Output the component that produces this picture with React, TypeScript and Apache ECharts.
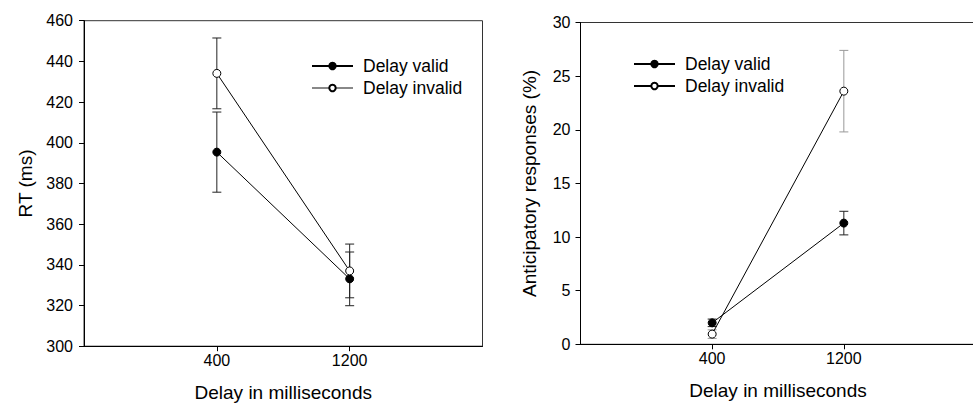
import React, { useEffect, useRef } from "react";
import * as echarts from "echarts";

const xLabels = ["400", "1200"];
const axisCats = ["", ...xLabels, ""];

const rtValid = [395.4, 333.1];
const rtValidErr = [19.7, 13.2];
const rtInvalid = [434.1, 337.0];
const rtInvalidErr = [17.4, 13.2];

const antValid = [2.0, 11.3];
const antValidErr = [0.35, 1.1];
const antInvalid = [0.95, 23.6];
const antInvalidErr = [0.4, 3.8];

const seriesNames = ["Delay valid", "Delay invalid"];

const FONT = "'Liberation Sans', Arial, sans-serif";

function errData(vals: number[], errs: number[]) {
  return vals.map((v, i) => [xLabels[i], v, errs[i]]);
}

function errSeries(idx: number, vals: number[], errs: number[], color: string) {
  return {
    type: "custom",
    name: "err" + idx + color,
    xAxisIndex: idx,
    yAxisIndex: idx,
    z: 1,
    silent: true,
    encode: { x: 0, y: 1 },
    data: errData(vals, errs),
    renderItem: (params: any, api: any) => {
      const x = api.value(0);
      const y = api.value(1);
      const e = api.value(2);
      const t = api.coord([x, y + e]);
      const b = api.coord([x, y - e]);
      const w = 4.5;
      const st = { stroke: color, lineWidth: 1 };
      return {
        type: "group",
        children: [
          { type: "line", shape: { x1: t[0], y1: t[1], x2: b[0], y2: b[1] }, style: st },
          { type: "line", shape: { x1: t[0] - w, y1: t[1], x2: t[0] + w, y2: t[1] }, style: st },
          { type: "line", shape: { x1: b[0] - w, y1: b[1], x2: b[0] + w, y2: b[1] }, style: st },
        ],
      };
    },
  };
}

function lineSeries(idx: number, name: string, vals: number[], open: boolean) {
  return {
    type: "line",
    name,
    xAxisIndex: idx,
    yAxisIndex: idx,
    z: 3,
    data: vals.map((v, i) => [xLabels[i], v]),
    symbol: "circle",
    symbolSize: 8,
    showSymbol: true,
    lineStyle: { color: "#000", width: 1 },
    itemStyle: {
      color: open ? "#fff" : "#000",
      borderColor: "#000",
      borderWidth: 1,
      opacity: 1,
    },
  };
}

const showIdx = (i: number) => i === 1 || i === 2;

function xAxis(idx: number) {
  return {
    type: "category",
    gridIndex: idx,
    data: axisCats,
    boundaryGap: false,
    name: "Delay in milliseconds",
    nameLocation: "middle",
    nameGap: 37,
    nameTextStyle: { fontSize: 19, color: "#000", fontFamily: FONT },
    axisLine: { show: true, lineStyle: { color: "#000", width: 1 } },
    axisTick: { show: true, interval: showIdx, length: 5, inside: false, lineStyle: { color: "#000" } },
    axisLabel: { interval: showIdx, fontSize: 16, color: "#000", fontFamily: FONT, margin: 6 },
    splitLine: { show: false },
  };
}

function yAxis(idx: number, name: string, min: number, max: number, interval: number, gap: number, margin: number) {
  return {
    type: "value",
    gridIndex: idx,
    min,
    max,
    interval,
    name,
    nameLocation: "middle",
    nameGap: gap,
    nameTextStyle: { fontSize: 19, color: "#000", fontFamily: FONT },
    axisLine: { show: true, lineStyle: { color: "#000", width: 1 } },
    axisTick: { show: true, length: 5, inside: false, lineStyle: { color: "#000" } },
    axisLabel: { fontSize: 16, color: "#000", fontFamily: FONT, margin },
    splitLine: { show: false },
  };
}

function legend(left: number, top: number, invalidLineColor: string) {
  return {
    orient: "vertical",
    left,
    top,
    padding: 0,
    itemWidth: 41,
    itemHeight: 8,
    itemGap: 2,
    selectedMode: false,
    textStyle: { fontSize: 17.5, lineHeight: 20, color: "#000", fontFamily: FONT, padding: [0, 0, 0, 5] },
    data: [
      { name: seriesNames[0], lineStyle: { color: "#000" } },
      { name: seriesNames[1], lineStyle: { color: invalidLineColor } },
    ],
  };
}

export default function App() {
  const ref = useRef<HTMLDivElement>(null);
  useEffect(() => {
    if (!ref.current) return;
    const chart = echarts.init(ref.current, undefined, { renderer: "svg" });
    chart.setOption({
      animation: false,
      backgroundColor: "#fff",
      textStyle: { fontFamily: FONT },
      grid: [
        { left: 84, top: 20.7, width: 398.5, height: 325.5, show: true, borderColor: "#333", borderWidth: 1, backgroundColor: "transparent", containLabel: false, outerBoundsMode: "none" },
        { left: 580.5, top: 22.5, width: 395, height: 321.8, show: true, borderColor: "#333", borderWidth: 1, backgroundColor: "transparent", containLabel: false, outerBoundsMode: "none" },
      ],
      xAxis: [xAxis(0), xAxis(1)],
      yAxis: [
        yAxis(0, "RT (ms)", 300, 460, 20, 49, 11),
        yAxis(1, "Anticipatory responses (%)", 0, 30, 5, 42, 10),
      ],
      legend: [legend(311, 56, "#888"), legend(633, 54, "#000")],
      series: [
        lineSeries(0, seriesNames[0], rtValid, false),
        lineSeries(0, seriesNames[1], rtInvalid, true),
        lineSeries(1, seriesNames[0], antValid, false),
        lineSeries(1, seriesNames[1], antInvalid, true),
        errSeries(0, rtValid, rtValidErr, "#222"),
        errSeries(0, rtInvalid, rtInvalidErr, "#222"),
        errSeries(1, antValid, antValidErr, "#222"),
        errSeries(1, antInvalid, antInvalidErr, "#999"),
      ],
    });
    return () => chart.dispose();
  }, []);
  return (
    <div
      ref={ref}
      style={{ position: "fixed", left: 0, top: 0, width: 973, height: 404 }}
    />
  );
}
